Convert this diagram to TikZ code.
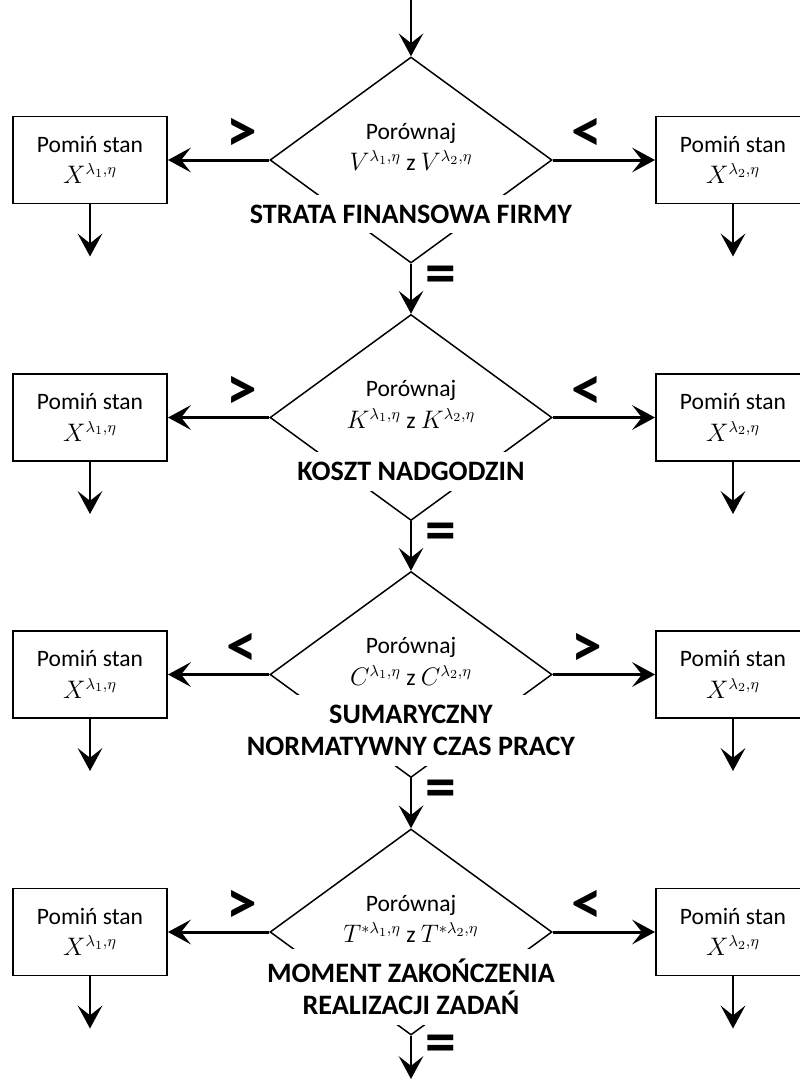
\documentclass[tikz,border=0pt]{standalone}
\usepackage{fontspec}
\setmainfont{Carlito}
\usetikzlibrary{shapes.geometric,arrows.meta}

\begin{document}
\begin{tikzpicture}[every text node part/.style={align=center},
    font=\fontsize{13.4}{18}\selectfont]
        \tikzset{
          cmpstyle/.style={draw, shape=diamond, line width=0.85pt,
            minimum width=5.64cm, minimum height=4.12cm, inner sep=0pt},
          skipstyle/.style={draw, line width=1.1pt,
            minimum width=3.08cm, minimum height=1.74cm, inner sep=0pt},
          critstyle/.style={fill=white, font=\fontsize{16}{18.3}\selectfont\bfseries,
            inner xsep=2pt, inner ysep=0.2cm},
          signstyle/.style={font=\fontsize{35}{35}\selectfont\bfseries},
          arr/.style={-{Stealth[length=13pt,width=14pt,inset=5.5pt]}, line width=1.7pt},
          flow/.style={-{Stealth[length=13pt,width=14pt,inset=5.5pt]}, line width=1.2pt},
        }
        \useasboundingbox (0,0) rectangle (16,-21.58);
        \coordinate (start) at (8.22,0);
        \coordinate (stop) at (8.22,-21.58);
        %
        \node [cmpstyle](cmp1) at (8.22,-3.2) {};
        \node (what1) at (8.22,-2.94) {Porównaj\\ $V^{\lambda_1,\eta}$ z $V^{\lambda_2,\eta}$};
        \node [critstyle](crit1) at (8.22,-4.28) {STRATA FINANSOWA FIRMY};
        \node [skipstyle](skipL1) at (1.8,-3.2) {Pomiń stan\\ $X^{\lambda_1,\eta}$};
        \node [skipstyle](skipR1) at (14.66,-3.2) {Pomiń stan\\ $X^{\lambda_2,\eta}$};
        \node [signstyle](signL1) at (4.84,-2.7) {>};
        \node [signstyle](signR1) at (11.74,-2.7) {<};
        \coordinate (outL1) at (1.8,-5.13);
        \coordinate (outR1) at (14.66,-5.13);
        \draw [flow] (start) -- (cmp1.north);
        \draw [arr] (cmp1.west) -- (skipL1.east);
        \draw [arr] (cmp1.east) -- (skipR1.west);
        \draw [arr] (skipL1.south) -- (outL1);
        \draw [arr] (skipR1.south) -- (outR1);
        \node [signstyle](eq1) at (8.82,-5.59) {=};
        %
        \node [cmpstyle](cmp2) at (8.22,-8.35) {};
        \node (what2) at (8.22,-8.09) {Porównaj\\ $K^{\lambda_1,\eta}$ z $K^{\lambda_2,\eta}$};
        \node [critstyle](crit2) at (8.22,-9.43) {KOSZT NADGODZIN};
        \node [skipstyle](skipL2) at (1.8,-8.35) {Pomiń stan\\ $X^{\lambda_1,\eta}$};
        \node [skipstyle](skipR2) at (14.66,-8.35) {Pomiń stan\\ $X^{\lambda_2,\eta}$};
        \node [signstyle](signL2) at (4.84,-7.85) {>};
        \node [signstyle](signR2) at (11.74,-7.85) {<};
        \coordinate (outL2) at (1.8,-10.28);
        \coordinate (outR2) at (14.66,-10.28);
        \draw [flow] (cmp1.south) -- (cmp2.north);
        \draw [arr] (cmp2.west) -- (skipL2.east);
        \draw [arr] (cmp2.east) -- (skipR2.west);
        \draw [arr] (skipL2.south) -- (outL2);
        \draw [arr] (skipR2.south) -- (outR2);
        \node [signstyle](eq2) at (8.82,-10.74) {=};
        %
        \node [cmpstyle](cmp3) at (8.22,-13.49) {};
        \node (what3) at (8.22,-13.23) {Porównaj\\ $C^{\lambda_1,\eta}$ z $C^{\lambda_2,\eta}$};
        \node [critstyle](crit3) at (8.22,-14.61) {SUMARYCZNY\\ NORMATYWNY CZAS PRACY};
        \node [skipstyle](skipL3) at (1.8,-13.49) {Pomiń stan\\ $X^{\lambda_1,\eta}$};
        \node [skipstyle](skipR3) at (14.66,-13.49) {Pomiń stan\\ $X^{\lambda_2,\eta}$};
        \node [signstyle](signL3) at (4.84,-12.99) {<};
        \node [signstyle](signR3) at (11.74,-12.99) {>};
        \coordinate (outL3) at (1.8,-15.42);
        \coordinate (outR3) at (14.66,-15.42);
        \draw [flow] (cmp2.south) -- (cmp3.north);
        \draw [arr] (cmp3.west) -- (skipL3.east);
        \draw [arr] (cmp3.east) -- (skipR3.west);
        \draw [arr] (skipL3.south) -- (outL3);
        \draw [arr] (skipR3.south) -- (outR3);
        \node [signstyle](eq3) at (8.82,-15.88) {=};
        %
        \node [cmpstyle](cmp4) at (8.22,-18.64) {};
        \node (what4) at (8.22,-18.38) {Porównaj\\ $T^{*\lambda_1,\eta}$ z $T^{*\lambda_2,\eta}$};
        \node [critstyle](crit4) at (8.22,-19.74) {MOMENT ZAKOŃCZENIA\\ REALIZACJI ZADAŃ};
        \node [skipstyle](skipL4) at (1.8,-18.64) {Pomiń stan\\ $X^{\lambda_1,\eta}$};
        \node [skipstyle](skipR4) at (14.66,-18.64) {Pomiń stan\\ $X^{\lambda_2,\eta}$};
        \node [signstyle](signL4) at (4.84,-18.14) {>};
        \node [signstyle](signR4) at (11.74,-18.14) {<};
        \coordinate (outL4) at (1.8,-20.57);
        \coordinate (outR4) at (14.66,-20.57);
        \draw [flow] (cmp3.south) -- (cmp4.north);
        \draw [arr] (cmp4.west) -- (skipL4.east);
        \draw [arr] (cmp4.east) -- (skipR4.west);
        \draw [arr] (skipL4.south) -- (outL4);
        \draw [arr] (skipR4.south) -- (outR4);
        \draw [flow] (cmp4.south) -- (stop);
        \node [signstyle](eq4) at (8.82,-20.98) {=};
    \end{tikzpicture}
\end{document}
